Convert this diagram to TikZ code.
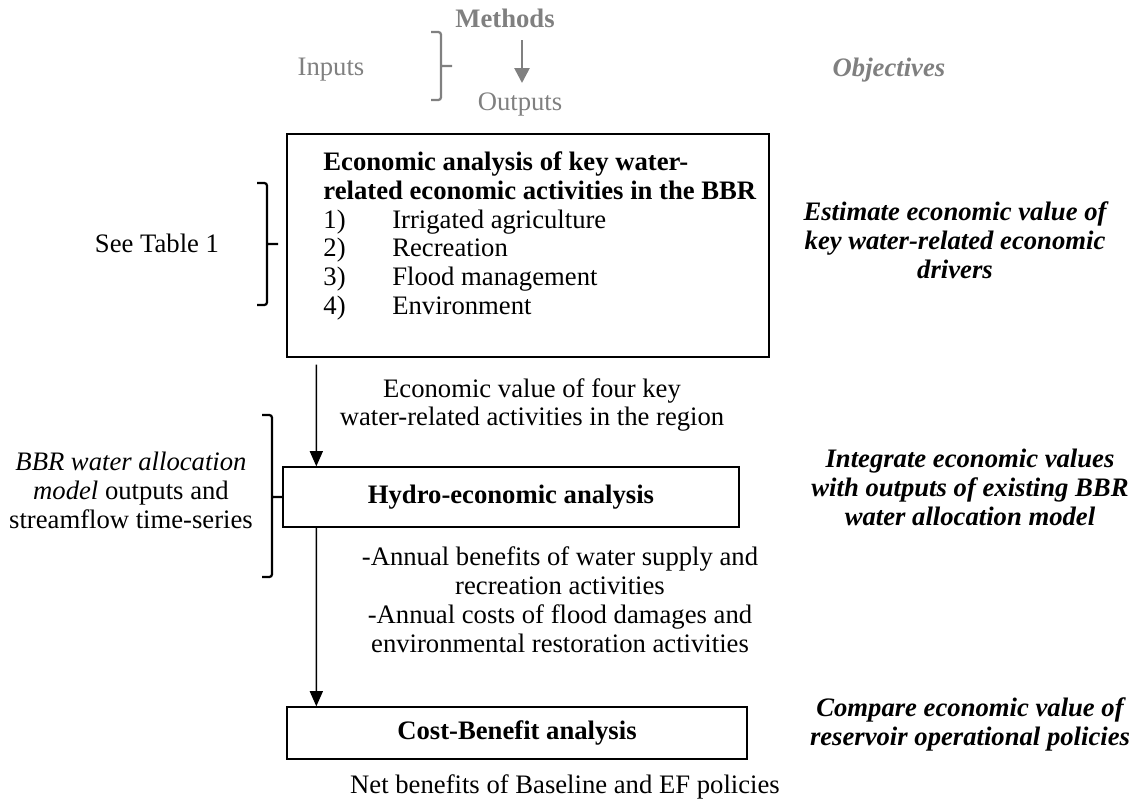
\documentclass[tikz,border=0pt]{standalone}
\usepackage{fontspec}
\setmainfont{Liberation Serif}
\usetikzlibrary{arrows.meta,positioning}
\tikzset{%
	box/.style       = {draw, rectangle, line width=0.6pt, inner sep=0pt, font=\fontsize{12}{13}\selectfont\bfseries},
	note/.style      = {align=center, inner sep=0pt, font=\fontsize{12}{13}\selectfont},
	goal/.style      = {note, font=\fontsize{12}{13}\selectfont\bfseries\itshape},
	legendtxt/.style = {note, text=gray},
	arrow/.style     = {line width=0.75pt, -{Triangle[width=5.8pt,length=6.8pt]}},
	bracket/.style   = {line width=1pt, rounded corners=1.2pt},
}

\begin{document}
\begin{tikzpicture}[x=0.45pt, y=-0.45pt]
	\useasboundingbox (0,0) rectangle (1136,803);
	% legend
	\node[legendtxt, font=\fontsize{12}{13}\selectfont\bfseries] (methods) at (505,18) {Methods};
	\node[legendtxt] (outputs) at (520,105) {Outputs};
	\node[legendtxt] (inputs) at (331,70) {Inputs};
	\node[legendtxt, font=\fontsize{12}{13}\selectfont\bfseries\itshape] (objectives) at (889,70) {Objectives};
	\coordinate (ltop) at (522,40);
	\coordinate (lbot) at (522,83);
	\draw[arrow, gray, line width=1.2pt, -{Triangle[width=6.7pt,length=6.7pt]}] (ltop) -- (lbot);
	\draw[bracket, gray] (431,32) -- (441,32) -- (441,100) -- (431,100) (441,66) -- (452,66);
	% boxes
	\node[box, minimum width=216.9pt, minimum height=100.35pt] (econbox) at (528,245.5) {};
	\node[note, align=left, anchor=north west] (econ) at (323,151) {%
		\textbf{Economic analysis of key water-}\\
		\textbf{related economic activities in the BBR}\\
		\makebox[31pt][l]{1)}Irrigated agriculture\\
		\makebox[31pt][l]{2)}Recreation\\
		\makebox[31pt][l]{3)}Flood management\\
		\makebox[31pt][l]{4)}Environment};
	\node[box, minimum width=205.2pt, minimum height=27pt] (hydro) at (511,497) {Hydro-economic analysis};
	\node[box, minimum width=207pt, minimum height=23.4pt] (cba) at (517,733) {Cost-Benefit analysis};
	% outputs
	\node[note] (value) at (532,405) {Economic value of four key\\water-related activities in the region};
	\node[note] (annual) at (560,600) {-Annual benefits of water supply and\\recreation activities\\-Annual costs of flood damages and\\environmental restoration activities};
	\node[note] (net) at (565,787) {Net benefits of Baseline and EF policies};
	% inputs
	\node[note] (table) at (157,243) {See Table 1};
	\node[note] (model) at (131,490) {\textit{BBR water allocation}\\\textit{model} outputs and\\streamflow time-series};
	\draw[bracket] (257,183) -- (267,183) -- (267,305) -- (257,305) (267,244) -- (278,244);
	\draw[bracket] (262,415) -- (272,415) -- (272,577) -- (262,577) (272,497) -- (hydro.west);
	% objectives
	\node[goal] (estimate) at (955,240) {Estimate economic value of\\key water-related economic\\drivers};
	\node[goal] (integrate) at (970,487) {Integrate economic values\\with outputs of existing BBR\\water allocation model};
	\node[goal] (compare) at (970,724) {Compare economic value of\\reservoir operational policies};
	% flow
	\draw[arrow] ([shift={(30,7)}]econbox.south west) -- ([shift={(34,0)}]hydro.north west);
	\draw[arrow] ([shift={(34,0)}]hydro.south west) -- ([shift={(30,0)}]cba.north west);
\end{tikzpicture}
\end{document}
